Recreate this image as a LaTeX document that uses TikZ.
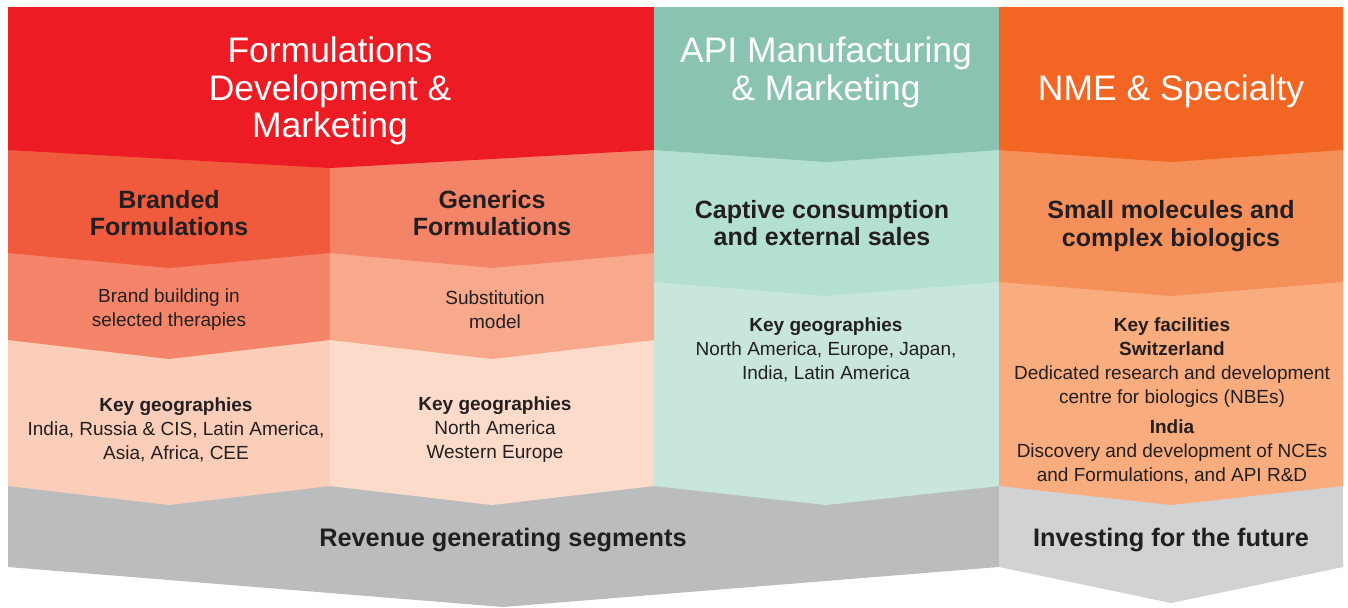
\documentclass[tikz,border=0pt]{standalone}
\usepackage{fontspec}
\setmainfont{Liberation Sans}
\definecolor{dark}{HTML}{231F20}
\definecolor{redH}{HTML}{ED1C24}
\definecolor{brandC}{HTML}{F05A3D}
\definecolor{genC}{HTML}{F48468}
\definecolor{brandRow}{HTML}{F4846A}
\definecolor{substRow}{HTML}{F8A88B}
\definecolor{peachL}{HTML}{FBCEB9}
\definecolor{peachR}{HTML}{FDDBCB}
\definecolor{tealH}{HTML}{8BC3B3}
\definecolor{tealM}{HTML}{B4DFD3}
\definecolor{tealL}{HTML}{C9E6DD}
\definecolor{orH}{HTML}{F26522}
\definecolor{orM}{HTML}{F6905A}
\definecolor{orL}{HTML}{F9AC7E}
\definecolor{grayA}{HTML}{BBBCBE}
\definecolor{grayB}{HTML}{D1D2D3}
\begin{document}
\begin{tikzpicture}[x=0.75pt,y=-0.75pt,
  hdr/.style={text=white, inner sep=0pt, align=center, font=\fontsize{26.6}{28.1}\selectfont},
  subhd/.style={text=dark, inner sep=0pt, align=center, font=\bfseries\fontsize{18.75}{20.5}\selectfont},
  body/.style={text=dark, inner sep=0pt, align=center, font=\fontsize{14.25}{18}\selectfont},
  foot/.style={text=dark, inner sep=0pt, align=center, font=\bfseries\fontsize{19}{21}\selectfont}]
\fill[white] (0,0) rectangle (1348,607);
\useasboundingbox (0,0) rectangle (1348,607);
% bottom gray bands
\fill[grayA] (8,486) -- (999,486) -- (999,567) -- (503,607) -- (8,567) -- cycle;
\fill[grayB] (999,486) -- (1343,486) -- (1343,567) -- (1171,603) -- (999,567) -- cycle;
% red column
\fill[peachL] (8,340) -- (330,340) -- (330,486) -- (169,505) -- (8,486) -- cycle;
\fill[peachR] (330,340) -- (654,340) -- (654,486) -- (492,505) -- (330,486) -- cycle;
\fill[brandRow] (8,253) -- (330,253) -- (330,340) -- (169,359) -- (8,340) -- cycle;
\fill[substRow] (330,253) -- (654,253) -- (654,340) -- (492,359) -- (330,340) -- cycle;
\fill[brandC] (8,150) -- (330,150) -- (330,253) -- (169,268) -- (8,253) -- cycle;
\fill[genC] (330,150) -- (654,150) -- (654,253) -- (492,268) -- (330,253) -- cycle;
\fill[redH] (8,7) -- (654,7) -- (654,150) -- (330,168) -- (8,150) -- cycle;
% teal column
\fill[tealL] (654,282) -- (999,282) -- (999,486) -- (826,505) -- (654,486) -- cycle;
\fill[tealM] (654,150) -- (999,150) -- (999,282) -- (826,296) -- (654,282) -- cycle;
\fill[tealH] (654,7) -- (999,7) -- (999,150) -- (826,162) -- (654,150) -- cycle;
% orange column
\fill[orL] (999,282) -- (1343,282) -- (1343,486) -- (1171,505) -- (999,486) -- cycle;
\fill[orM] (999,150) -- (1343,150) -- (1343,282) -- (1171,296) -- (999,282) -- cycle;
\fill[orH] (999,7) -- (1343,7) -- (1343,150) -- (1171,162) -- (999,150) -- cycle;
% texts
\node[hdr] (h1) at (330,91) {Formulations\\Development \&\\Marketing};
\node[hdr] (h2) at (826,72.5) {API Manufacturing\\\& Marketing};
\node[hdr] (h3) at (1171,91) {NME \& Specialty};
\node[subhd] (s1) at (169,213) {Branded\\Formulations};
\node[subhd] (s2) at (492,213) {Generics\\Formulations};
\node[subhd] (s3) at (822,223) {Captive consumption\\and external sales};
\node[subhd] (s4) at (1171,226) {Small molecules and\\complex biologics};
\node[body] (b1) at (169,310) {Brand building in\\selected therapies};
\node[body] (b2) at (495,310) {Substitution\\model};
\node[body] (g1) at (176,430) {\textbf{Key geographies}\\India, Russia \& CIS, Latin America,\\Asia, Africa, CEE};
\node[body] (g2) at (495,430) {\textbf{Key geographies}\\North America\\Western Europe};
\node[body] (g3) at (826,350) {\textbf{Key geographies}\\North America, Europe, Japan,\\India, Latin America};
\node[body] (g4) at (1172,401) {\textbf{Key facilities}\\\textbf{Switzerland}\\Dedicated research and development\\centre for biologics (NBEs)\\[4.5pt]\textbf{India}\\Discovery and development of NCEs\\and Formulations, and API R\&D};
\node[foot] (f1) at (503,540) {Revenue generating segments};
\node[foot] (f2) at (1171,540) {Investing for the future};
\end{tikzpicture}
\end{document}
